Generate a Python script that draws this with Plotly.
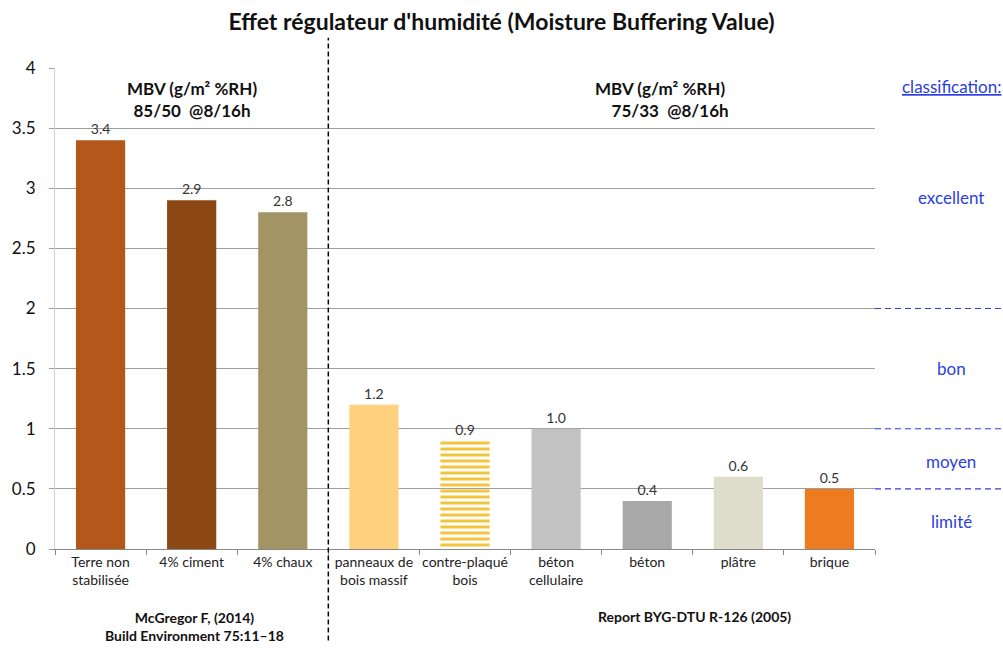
import plotly.graph_objects as go

# Moisture Buffering Value per material (g/m² %RH)
materials = [
    "Terre non<br>stabilisée", "4% ciment", "4% chaux",
    "panneaux de<br>bois massif", "contre-plaqué<br>bois", "béton<br>cellulaire",
    "béton", "plâtre", "brique",
]
mbv = [3.4, 2.9, 2.8, 1.2, 0.9, 1.0, 0.4, 0.6, 0.5]
bar_colors = ["#B3571B", "#8C4812", "#A39466", "#FFD07E", "#F3C53E",
              "#C2C2C2", "#A9A9A9", "#DEDDCB", "#EE7B1F"]
patterns = ["", "", "", "", "-", "", "", "", ""]

# classification thresholds and labels (right margin)
class_limits = [2.0, 1.0, 0.5]
class_labels = ["excellent", "bon", "moyen", "limité"]
class_label_y = [2.92, 1.5, 0.73, 0.23]

FONT = "Lato, 'Open Sans', sans-serif"
BLUE = "#2B3FE0"
INK = "#111111"

fig = go.Figure()
fig.add_trace(go.Bar(
    x=materials, y=mbv,
    marker=dict(
        color=bar_colors,
        line=dict(width=0),
        # yellow horizontal stripes on a transparent ground for the plywood bar
        pattern=dict(shape=patterns, size=6, solidity=0.5, fillmode="replace"),
    ),
    text=[f"{v:.1f}" for v in mbv],
    textposition="outside",
    textfont=dict(size=14, color="#333333", family=FONT),
    cliponaxis=False,
    width=0.54,
))

shapes = []
# separator between the two data sources
shapes.append(dict(type="line", xref="x", yref="paper", x0=2.5, x1=2.5,
                   y0=-0.19, y1=1.063,
                   line=dict(color="black", width=1.5, dash="5px,3px")))
# classification thresholds
for lim in class_limits:
    shapes.append(dict(type="line", xref="paper", yref="y", x0=1.0, x1=1.16,
                       y0=lim, y1=lim, line=dict(color=BLUE, width=1.2, dash="6px,4px")))

annotations = [
    dict(text="<b>MBV (g/m² %RH)<br>85/50  @8/16h</b>", x=1, y=3.74, xref="x", yref="y",
         xanchor="center", showarrow=False,
         font=dict(size=17, family=FONT, color=INK), align="center"),
    dict(text="<b>MBV (g/m² %RH)<br>    75/33  @8/16h</b>", x=6.16, y=3.74, xref="x", yref="y",
         xanchor="center", showarrow=False,
         font=dict(size=17, family=FONT, color=INK), align="left"),
    dict(text="<b>McGregor F, (2014)<br>Build Environment 75:11–18</b>", x=0.17, y=-0.161,
         xref="paper", yref="paper", xanchor="center", yanchor="middle", showarrow=False,
         font=dict(size=14, family=FONT, color=INK), align="center"),
    dict(text="<b>Report BYG-DTU R-126 (2005)</b>", x=0.78, y=-0.141,
         xref="paper", yref="paper", xanchor="center", yanchor="middle", showarrow=False,
         font=dict(size=14, family=FONT, color=INK)),
    dict(text="<u>classification:</u>", x=1.031, y=3.85, xref="paper", yref="y",
         xanchor="left", showarrow=False, font=dict(size=17, family=FONT, color=BLUE)),
]
for lbl, yv in zip(class_labels, class_label_y):
    annotations.append(dict(text=lbl, x=1.093, y=yv, xref="paper", yref="y",
                            xanchor="center", showarrow=False,
                            font=dict(size=17, family=FONT, color=BLUE)))

fig.update_layout(
    width=1003, height=661, autosize=False,
    margin=dict(l=50, r=128, t=68, b=112),
    paper_bgcolor="white", plot_bgcolor="white",
    title=dict(text="<b>Effet régulateur d'humidité (Moisture Buffering Value)</b>",
               x=0.5, xanchor="center", y=0.967, yanchor="middle",
               font=dict(size=23, family=FONT, color=INK)),
    showlegend=False,
    shapes=shapes, annotations=annotations,
    font=dict(family=FONT),
)
fig.update_yaxes(range=[0, 4], dtick=0.5, showgrid=True, gridcolor="#9E9E9E", gridwidth=1,
                 zeroline=False, showline=True, linecolor="#D0D0D0", linewidth=1,
                 ticks="outside", ticklen=5, tickcolor="#9E9E9E", ticklabelstandoff=10,
                 tickfont=dict(size=17, color=INK, family=FONT),
                 tickformat="~g")
fig.update_xaxes(showline=True, linecolor="#888888", linewidth=1, ticks="outside",
                 tickson="boundaries", ticklen=5, tickcolor="#888888",
                 tickfont=dict(size=14, color="#222222", family=FONT), tickangle=0)

fig.write_html("out.html")
